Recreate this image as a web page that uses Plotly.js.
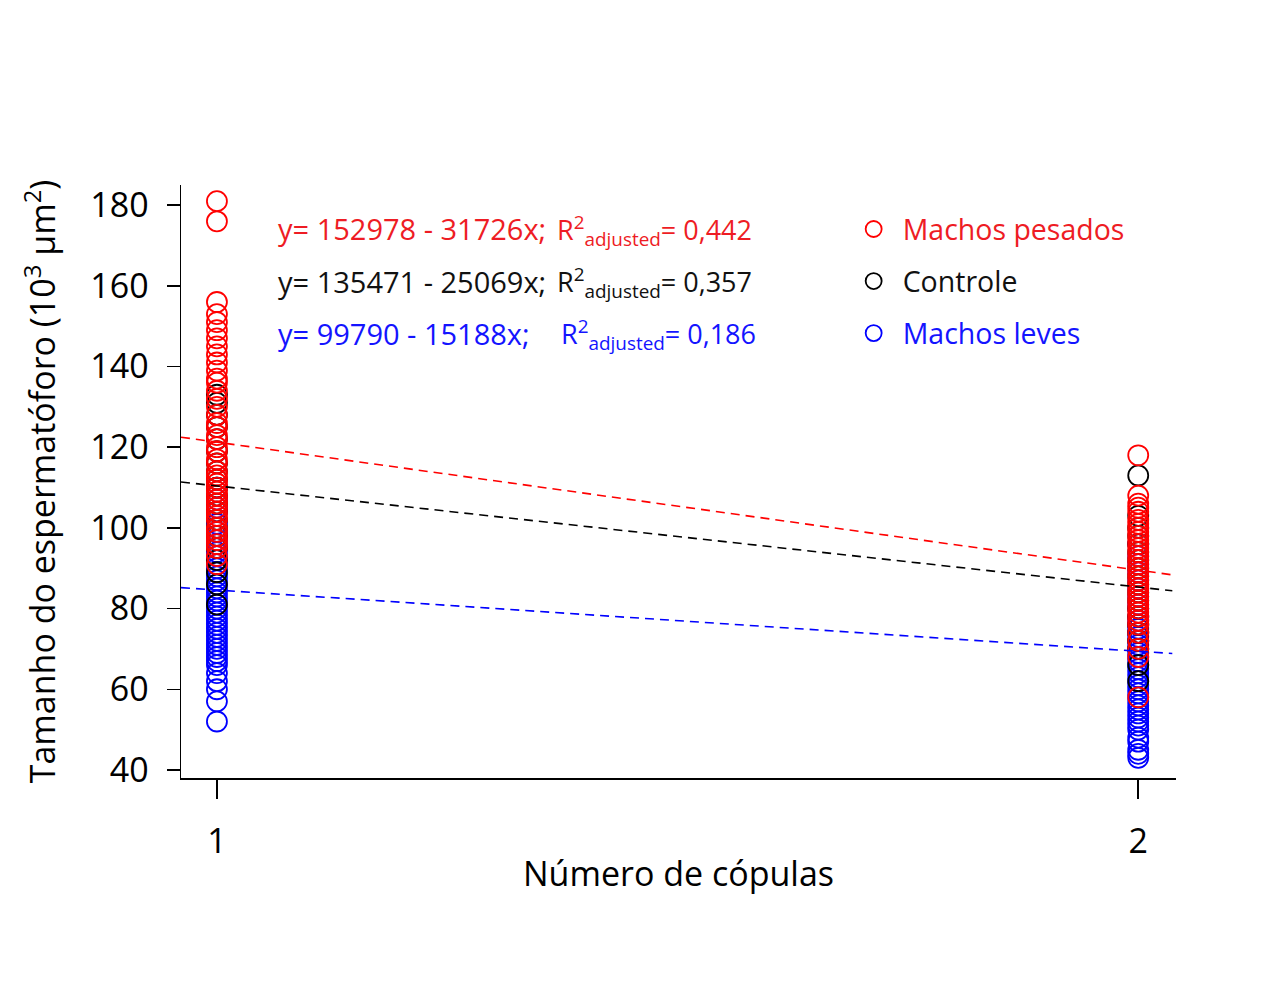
<!DOCTYPE html>
<html>
<head>
<meta charset="utf-8">
<script src="https://cdn.plot.ly/plotly-3.0.1.min.js"></script>
<style>html,body{margin:0;padding:0;background:#fff;}#chart{width:1262px;height:984px;}</style>
</head>
<body>
<div id="chart"></div>
<script>
// Group names
var groupNames = ['Machos leves', 'Controle', 'Machos pesados'];
var groupColors = ['#0000ff', '#000000', '#ff0000'];
var textColors = ['#1414ff', '#111111', '#ee1c24'];

// Spermatophore size (10^3 µm^2), one copula (x=1) and two copulas (x=2)
var levesX1 = [110, 107, 105, 104, 101, 99, 98, 97, 96, 95, 94, 93, 92, 91, 90, 89, 88, 87, 86, 85, 84, 83, 82, 81, 80, 79, 78, 77, 76, 75, 74, 73, 72, 71, 70, 69, 68, 67, 66, 64, 62, 60, 57, 52];
var levesX2 = [96, 93, 91, 89, 87, 85, 83, 81, 80, 78, 77, 76, 75, 74, 73, 72, 71, 70, 69, 68, 67, 66, 65, 64, 63, 62, 61, 60, 59, 58, 57, 56, 55, 54, 53, 52, 51, 50, 48, 47, 45, 44, 43];
var controleX1 = [133, 131, 128, 125, 122, 119, 116, 114, 112, 110, 108, 106, 104, 102, 100, 98, 95, 92, 89, 86, 81];
var controleX2 = [113, 103, 100, 98, 96, 94, 92, 90, 88, 86, 84, 82, 80, 78, 76, 74, 72, 70, 66, 62];
var pesadosX1 = [181, 176, 156, 153, 151, 149, 147, 145, 143, 141, 139, 137, 136, 134, 132, 130, 128, 126, 125, 123, 122, 120, 119, 117, 116, 114, 113, 112, 111, 110, 109, 108, 107, 106, 105, 104, 103, 102, 100, 99, 98, 97, 96, 95, 93, 91];
var pesadosX2 = [118, 108, 106, 105, 104, 102, 101, 100, 99, 98, 97, 96, 95, 94, 93, 92, 91, 90, 89, 88, 87, 86, 85, 84, 83, 82, 81, 80, 79, 78, 77, 76, 74, 72, 70, 68, 58];

// Regression coefficients (y in 10^3 µm^2)
var intercepts = [99.790, 135.471, 152.978];
var slopes = [-15.188, -25.069, -31.726];
var eqTexts = ['y= 99790 - 15188x;', 'y= 135471 - 25069x;', 'y= 152978 - 31726x;'];
var r2Texts = ['0,186', '0,357', '0,442'];

var xTicks = [1, 2];
var yTicks = [40, 60, 80, 100, 120, 140, 160, 180];
var lineX = [0.961, 2.037];

var series = [[levesX1, levesX2], [controleX1, controleX2], [pesadosX1, pesadosX2]];
var traces = [];
var legendRanks = [3, 2, 1];
for (var g = 0; g < 3; g++) {
  var xs = [], ys = [];
  for (var k = 0; k < 2; k++) {
    var arr = series[g][k];
    for (var i = 0; i < arr.length; i++) { xs.push(xTicks[k]); ys.push(arr[i]); }
  }
  traces.push({
    type: 'scatter', mode: 'markers', x: xs, y: ys,
    name: '<span style="color:' + textColors[g] + '">' + groupNames[g] + '</span>',
    legendgroup: 'g' + g,
    legendrank: legendRanks[g],
    marker: {symbol: 'circle-open', size: 20, color: groupColors[g], line: {width: 1.8, color: groupColors[g]}},
    hoverinfo: 'x+y'
  });
}
for (var g2 = 0; g2 < 3; g2++) {
  traces.push({
    type: 'scatter', mode: 'lines',
    x: lineX,
    y: lineX.map(function (v) { return intercepts[g2] + slopes[g2] * v; }),
    showlegend: false,
    line: {color: groupColors[g2], width: 1.6, dash: '9px,6px'},
    hoverinfo: 'skip'
  });
}

var eqY = [0.750, 0.838, 0.926];
var r2X = [0.380, 0.376, 0.376];
var annotations = [];
for (var a = 0; a < 3; a++) {
  annotations.push({
    xref: 'paper', yref: 'paper', x: 0.0955, y: eqY[a], xanchor: 'left', yanchor: 'middle',
    text: eqTexts[a], showarrow: false,
    font: {family: 'Open Sans', size: 29, color: textColors[a]}
  });
  annotations.push({
    xref: 'paper', yref: 'paper', x: r2X[a], y: eqY[a] - 0.002, xanchor: 'left', yanchor: 'middle',
    text: 'R<sup>2</sup><sub>adjusted</sub>= ' + r2Texts[a], showarrow: false,
    font: {family: 'Open Sans', size: 27, color: textColors[a]}
  });
}

var layout = {
  width: 1262, height: 984,
  paper_bgcolor: '#ffffff', plot_bgcolor: '#ffffff',
  margin: {l: 181, r: 86, t: 185, b: 206},
  font: {family: 'Open Sans', color: '#000'},
  showlegend: true,
  legend: {
    x: 0.667, y: 0.968, xanchor: 'left', yanchor: 'top',
    traceorder: 'grouped', tracegroupgap: 12,
    font: {family: 'Open Sans', size: 28.5},
    bgcolor: 'rgba(0,0,0,0)', itemsizing: 'trace', itemwidth: 48
  },
  xaxis: {
    range: [0.961, 2.041], tickvals: xTicks, ticktext: ['1', '2'],
    ticks: 'outside', ticklen: 19, tickwidth: 1.5, tickcolor: '#000',
    showline: true, linewidth: 1.5, linecolor: '#000', mirror: false,
    showgrid: false, zeroline: false,
    tickfont: {family: 'Open Sans', size: 34, color: '#000'},
    ticklabelstandoff: 14,
    title: {text: 'Número de cópulas', font: {family: 'Open Sans', size: 34, color: '#000'}, standoff: 0}
  },
  yaxis: {
    range: [38, 185], tickvals: yTicks,
    ticks: 'outside', ticklen: 13, tickwidth: 1.5, tickcolor: '#000',
    showline: true, linewidth: 1.5, linecolor: '#000',
    showgrid: false, zeroline: false,
    tickfont: {family: 'Open Sans', size: 34, color: '#000'},
    ticklabelstandoff: 11,
    title: {text: 'Tamanho do espermatóforo (10<sup>3</sup> μm<sup>2</sup>)', font: {family: 'Open Sans', size: 34, color: '#000'}, standoff: 24}
  },
  annotations: annotations
};

Plotly.newPlot('chart', traces, layout, {displayModeBar: false, staticPlot: true});
</script>
</body>
</html>
